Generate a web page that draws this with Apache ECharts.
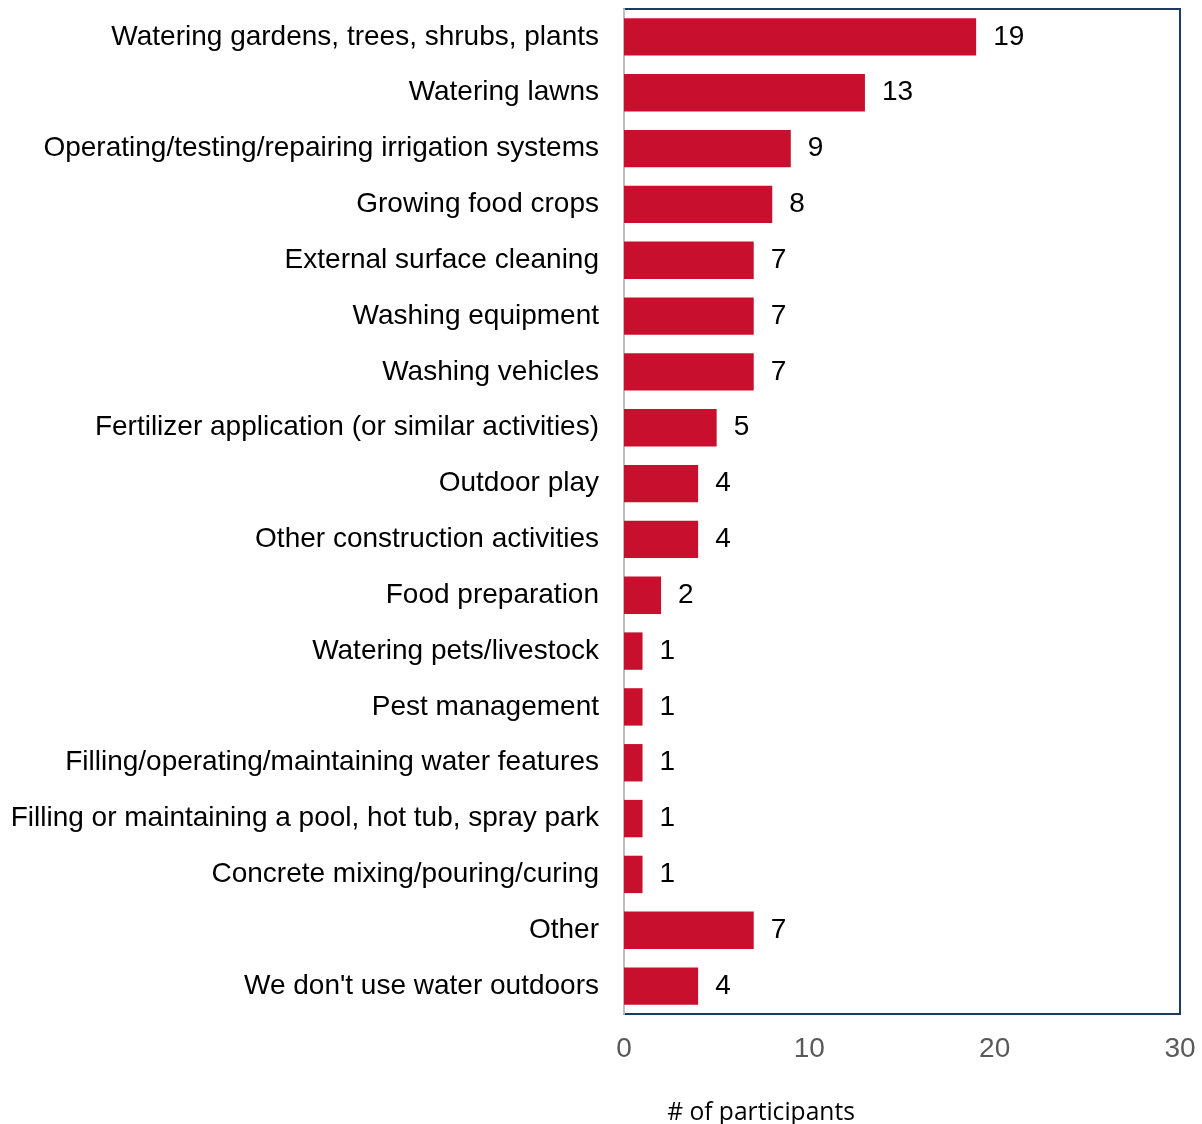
<!DOCTYPE html>
<html>
<head>
<meta charset="utf-8">
<script src="https://cdn.jsdelivr.net/npm/echarts@6/dist/echarts.min.js"></script>
<style>
  html, body { margin: 0; padding: 0; background: #ffffff; }
  #chart { width: 1202px; height: 1124px; }
</style>
</head>
<body>
<div id="chart"></div>
<script>
// Outdoor water uses reported by participants
const categories = [
  "Watering gardens, trees, shrubs, plants",
  "Watering lawns",
  "Operating/testing/repairing irrigation systems",
  "Growing food crops",
  "External surface cleaning",
  "Washing equipment",
  "Washing vehicles",
  "Fertilizer application (or similar activities)",
  "Outdoor play",
  "Other construction activities",
  "Food preparation",
  "Watering pets/livestock",
  "Pest management",
  "Filling/operating/maintaining water features",
  "Filling or maintaining a pool, hot tub, spray park",
  "Concrete mixing/pouring/curing",
  "Other",
  "We don't use water outdoors"
];
const participants = [19, 13, 9, 8, 7, 7, 7, 5, 4, 4, 2, 1, 1, 1, 1, 1, 7, 4];
const xTicks = [0, 10, 20, 30];
const axisTitle = '# of participants';

const FONT = '"Liberation Sans", Arial, sans-serif';

const chart = echarts.init(document.getElementById('chart'), null, { renderer: 'canvas' });
chart.setOption({
  animation: false,
  title: {
    text: axisTitle,
    left: 756, top: 1095,
    textAlign: 'center',
    textStyle: { fontFamily: '"Open Sans", sans-serif', fontSize: 24.6, fontWeight: 'normal', color: '#000000' }
  },
  grid: {
    left: 624, right: 22, top: 9, bottom: 110,
    show: true, borderColor: '#1f3a5f', borderWidth: 2, backgroundColor: 'transparent'
  },
  xAxis: {
    type: 'value',
    min: xTicks[0], max: xTicks[xTicks.length - 1], interval: 10,
    axisLine: { show: false },
    axisTick: { show: false },
    splitLine: { show: false },
    axisLabel: { fontFamily: FONT, fontSize: 28, color: '#595959', margin: 21 }
  },
  yAxis: {
    type: 'category',
    data: categories,
    inverse: true,
    axisLine: { show: true, lineStyle: { color: '#bfbfbf', width: 2 } },
    axisTick: { show: false },
    axisLabel: { fontFamily: FONT, fontSize: 28, color: '#000000', margin: 25 }
  },
  series: [{
    type: 'bar',
    data: participants,
    barCategoryGap: '33%',
    itemStyle: { color: '#c8102e' },
    label: {
      show: true, position: 'right', distance: 17,
      fontFamily: FONT, fontSize: 28, color: '#000000'
    }
  }]
});
</script>
</body>
</html>
